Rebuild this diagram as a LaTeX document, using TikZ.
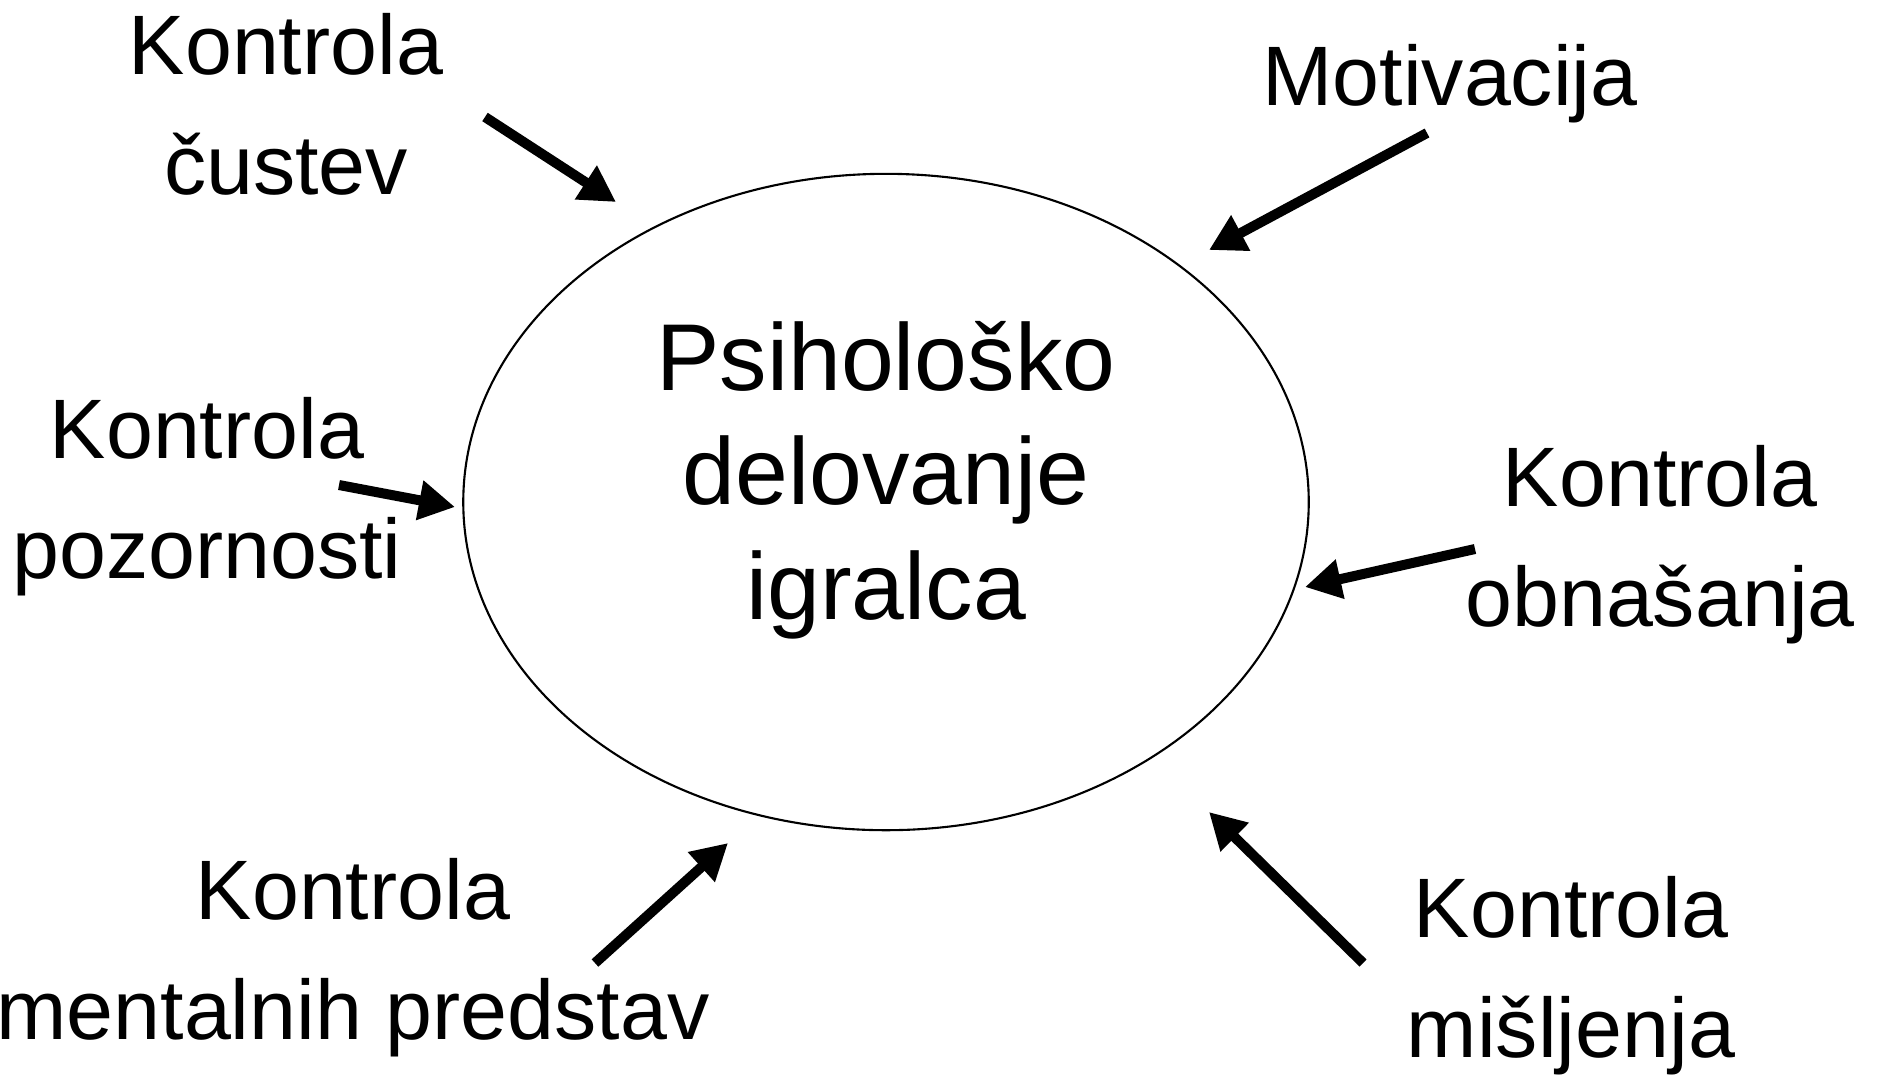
\documentclass[tikz,border=0pt]{standalone}
\usepackage{fontspec}
\setmainfont{Liberation Sans}
\usetikzlibrary{arrows.meta,shapes.geometric}
\begin{document}
\begin{tikzpicture}[x=0.01cm,y=-0.01cm,
  factor/.style={align=center,font=\fontsize{24}{34}\selectfont,inner sep=0pt,anchor=base},
  push/.style={line width=1mm,-{Triangle[length=3.6mm,width=3.8mm]}}]
  \useasboundingbox (0,0) rectangle (1877,1078);
  \node [draw,ellipse,line width=0.6pt,minimum width=8.45cm,minimum height=6.56cm,inner sep=0pt] (igralec) at (886,502) {};
  \node [factor,font=\fontsize{27}{32.5}\selectfont] (delovanje) at (886,619) {Psihološko\\delovanje\\igralca};
  \node [factor] (custva) at (286,194) {Kontrola\\čustev};
  \node [factor] (motivacija) at (1450,105) {Motivacija};
  \node [factor] (pozornost) at (207,578) {Kontrola\\pozornosti};
  \node [factor] (obnasanje) at (1660,626) {Kontrola\\obnašanja};
  \node [factor] (predstave) at (353,1039) {Kontrola\\mentalnih predstav};
  \node [factor] (misljenje) at (1571,1057) {Kontrola\\mišljenja};
  % arrow ends
  \coordinate (custva-s) at (485,117);
  \coordinate (custva-t) at (616,202);
  \coordinate (motivacija-s) at (1427,133);
  \coordinate (motivacija-t) at (1209,250);
  \coordinate (pozornost-s) at (339,485);
  \coordinate (pozornost-t) at (455,507);
  \coordinate (obnasanje-s) at (1475,549);
  \coordinate (obnasanje-t) at (1305,587);
  \coordinate (predstave-s) at (595,963);
  \coordinate (predstave-t) at (728,843);
  \coordinate (misljenje-s) at (1363,963);
  \coordinate (misljenje-t) at (1209,812);
  \draw [push] (custva-s) -- (custva-t);
  \draw [push] (motivacija-s) -- (motivacija-t);
  \draw [push] (pozornost-s) -- (pozornost-t);
  \draw [push] (obnasanje-s) -- (obnasanje-t);
  \draw [push] (predstave-s) -- (predstave-t);
  \draw [push] (misljenje-s) -- (misljenje-t);
\end{tikzpicture}
\end{document}
